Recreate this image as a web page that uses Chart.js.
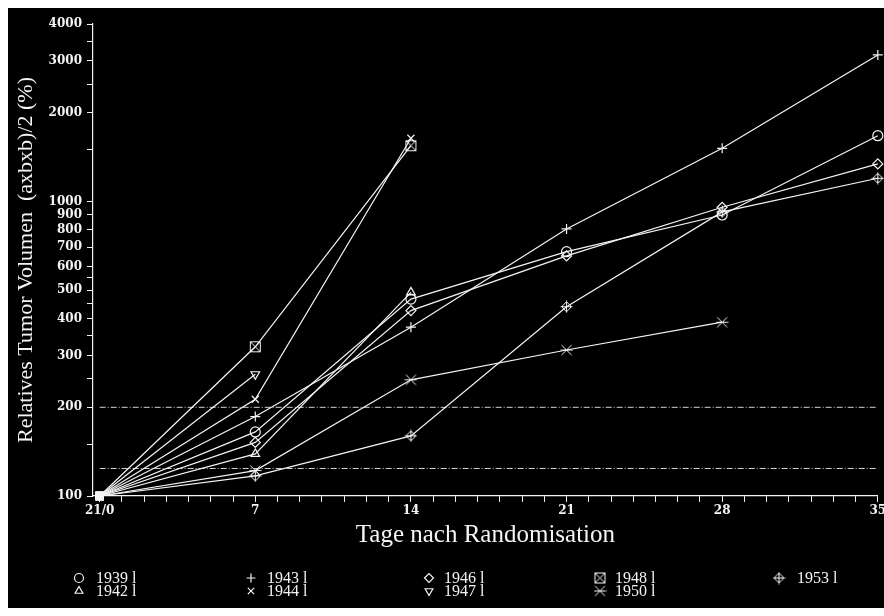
<!DOCTYPE html>
<html>
<head>
<meta charset="utf-8">
<script src="https://cdn.jsdelivr.net/npm/chart.js@4/dist/chart.umd.min.js"></script>
<style>
  html, body { margin: 0; padding: 0; background: #fff; }
  #wrap { position: absolute; left: 8px; top: 8px; width: 876px; height: 600px; background: #000; }
</style>
</head>
<body>
<div id="wrap"><canvas id="tumorChart" width="876" height="600"></canvas></div>
<script>
// days after randomisation
const days = [0, 7, 14, 21, 28, 35];

// relative tumour volume in % per tumour line
const s1939 = [100, 165, 466, 675, 899, 1671];
const s1942 = [100, 139, 491];
const s1943 = [100, 186, 374, 806, 1514, 3140];
const s1944 = [100, 213, 1638];
const s1946 = [100, 152, 426, 653, 955, 1340];
const s1947 = [100, 259];
const s1948 = [100, 321, 1545];
const s1950 = [100, 122, 248, 313, 389];
const s1953 = [100, 117, 160, 439, 921, 1198];

// reference lines
const refLevels = [200, 124];

const yTickValues = [100, 150, 200, 250, 300, 350, 400, 450, 500, 550, 600, 700, 800, 900, 1000,
                     1500, 2000, 2500, 3000, 3500, 4000];
const yTickLabels = [100, 200, 300, 400, 500, 600, 700, 800, 900, 1000, 2000, 3000, 4000];
const xTickValues = [];
for (let d = 0; d <= 35; d++) xTickValues.push(d);

const white = '#f4f4f4';

// small hand drawn symbols for markers chart.js doesn't have
function makeSymbol(draw) {
  const c = document.createElement('canvas');
  c.width = 13; c.height = 13;
  const g = c.getContext('2d');
  g.strokeStyle = white;
  g.lineWidth = 1;
  g.translate(6.5, 6.5);
  g.beginPath();
  draw(g);
  g.stroke();
  return c;
}
const boxCross = makeSymbol(g => {
  g.rect(-5, -5, 10, 10);
  g.moveTo(-5, -5); g.lineTo(5, 5);
  g.moveTo(5, -5); g.lineTo(-5, 5);
});
const diamondPlus = makeSymbol(g => {
  g.moveTo(0, -5); g.lineTo(5, 0); g.lineTo(0, 5); g.lineTo(-5, 0); g.closePath();
  g.moveTo(0, -6); g.lineTo(0, 6);
  g.moveTo(-6, 0); g.lineTo(6, 0);
});
const star6 = makeSymbol(g => {
  g.moveTo(-5, -5); g.lineTo(5, 5);
  g.moveTo(5, -5); g.lineTo(-5, 5);
  g.moveTo(-6, 0); g.lineTo(6, 0);
});

const lines = [
  { label: '1939 l', values: s1939, style: 'circle', rot: 0 },
  { label: '1942 l', values: s1942, style: 'triangle', rot: 0 },
  { label: '1943 l', values: s1943, style: 'cross', rot: 0 },
  { label: '1944 l', values: s1944, style: 'crossRot', rot: 0 },
  { label: '1946 l', values: s1946, style: 'rectRot', rot: 0 },
  { label: '1947 l', values: s1947, style: 'triangle', rot: 180 },
  { label: '1948 l', values: s1948, style: boxCross, rot: 0 },
  { label: '1950 l', values: s1950, style: star6, rot: 0 },
  { label: '1953 l', values: s1953, style: diamondPlus, rot: 0 }
];

const datasets = lines.map(l => ({
  label: l.label,
  data: l.values.map((v, i) => ({ x: days[i], y: v })),
  borderColor: white,
  borderWidth: 1.2,
  tension: 0,
  clip: false,
  pointStyle: ctx => ctx.dataIndex === 0 ? 'rect' : l.style,
  pointRotation: ctx => ctx.dataIndex === 0 ? 0 : l.rot,
  pointRadius: ctx => ctx.dataIndex === 0 ? 5 : 5,
  pointBackgroundColor: ctx => ctx.dataIndex === 0 ? white : 'rgba(0,0,0,0)',
  pointBorderColor: white,
  pointBorderWidth: 1.2,
  pointHoverRadius: 5
}));

refLevels.forEach(level => {
  datasets.push({
    label: 'ref',
    data: [{ x: 0, y: level }, { x: 35, y: level }],
    borderColor: '#d4d4d4',
    borderWidth: 1,
    borderDash: [6, 2, 1, 2],
    pointRadius: 0,
    order: 5
  });
});

// two row legend, filled column by column
const legendCols = [[0, 1], [2, 3], [4, 5], [6, 7], [8]];
const legendMarkX = [71, 243, 421, 592, 771];
const legendTextX = [88, 259, 436, 607, 789];
const legendRowY = [570, 583];

const legendPlugin = {
  id: 'gridLegend',
  afterDraw(chart) {
    const ctx = chart.ctx;
    ctx.save();
    ctx.strokeStyle = white;
    ctx.fillStyle = 'rgba(0,0,0,0)';
    ctx.lineWidth = 1.2;
    legendCols.forEach((col, c) => {
      col.forEach((idx, r) => {
        const l = lines[idx];
        Chart.helpers.drawPoint(ctx, { pointStyle: l.style, rotation: l.rot, radius: 4.5, borderWidth: 1.2 },
          legendMarkX[c], legendRowY[r]);
      });
    });
    ctx.fillStyle = white;
    ctx.font = '16px "Liberation Serif", serif';
    ctx.textBaseline = 'middle';
    legendCols.forEach((col, c) => {
      col.forEach((idx, r) => {
        ctx.fillText(lines[idx].label, legendTextX[c], legendRowY[r] + 1);
      });
    });
    ctx.restore();
  }
};

const tickFont = { family: '"DejaVu Serif", serif', size: 12, weight: 'bold' };

new Chart(document.getElementById('tumorChart').getContext('2d'), {
  type: 'line',
  data: { datasets: datasets },
  plugins: [legendPlugin],
  options: {
    responsive: false,
    animation: false,
    events: [],
    layout: { padding: { left: 0, top: 16, right: 5, bottom: 58 } },
    plugins: {
      legend: { display: false },
      tooltip: { enabled: false }
    },
    scales: {
      x: {
        type: 'linear',
        min: -0.3,
        max: 35,
        afterBuildTicks: s => { s.ticks = xTickValues.map(v => ({ value: v })); },
        afterFit: s => { s.height = 54; s.paddingLeft = 0; s.paddingRight = 0; },
        ticks: {
          autoSkip: false,
          maxRotation: 0,
          color: white,
          font: tickFont,
          padding: 2,
          callback: v => v === 0 ? '21/0' : (v % 7 === 0 ? String(v) : '')
        },
        grid: { drawOnChartArea: false, tickLength: 6, tickColor: white, color: white },
        border: { color: white, width: 1.2 },
        title: {
          display: true,
          text: 'Tage nach Randomisation',
          color: white,
          font: { family: '"Liberation Serif", serif', size: 25 },
          padding: { top: 0, bottom: 0 }
        }
      },
      y: {
        type: 'logarithmic',
        min: 100,
        max: 4000,
        afterBuildTicks: s => { s.ticks = yTickValues.map(v => ({ value: v })); },
        afterFit: s => { s.width = 85; s.paddingTop = 0; s.paddingBottom = 0; },
        ticks: {
          autoSkip: false,
          color: white,
          font: tickFont,
          padding: 5,
          callback: v => yTickLabels.includes(v) ? String(v) : ''
        },
        grid: { drawOnChartArea: false, tickLength: 6, tickColor: white, color: white },
        border: { color: white, width: 1.2 },
        title: {
          display: true,
          text: 'Relatives Tumor Volumen  (axbxb)/2 (%)',
          color: white,
          font: { family: '"Liberation Serif", serif', size: 22 },
          padding: { top: 5, bottom: 0 }
        }
      }
    }
  }
});
</script>
</body>
</html>
